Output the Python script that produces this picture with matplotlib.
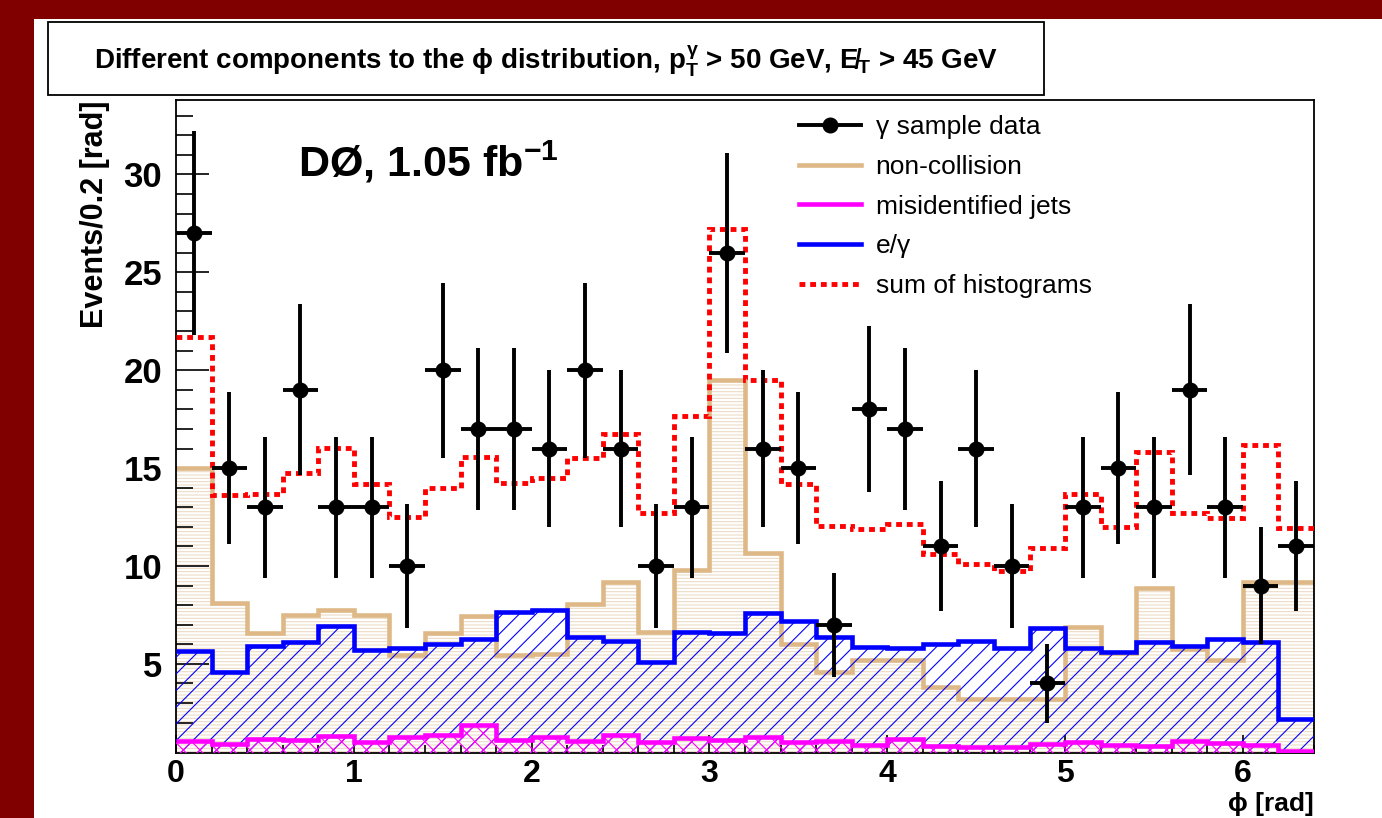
import numpy as np
import matplotlib
matplotlib.use("Agg")
import matplotlib.pyplot as plt
from matplotlib.lines import Line2D
from matplotlib.patches import Rectangle
from matplotlib.ticker import MultipleLocator

plt.rcParams['font.family'] = ['Liberation Sans', 'DejaVu Sans']
plt.rcParams['mathtext.fontset'] = 'custom'
plt.rcParams['mathtext.rm'] = 'Liberation Sans:bold'
plt.rcParams['mathtext.it'] = 'Liberation Sans:bold'
plt.rcParams['mathtext.bf'] = 'Liberation Sans:bold'
plt.rcParams['hatch.linewidth'] = 0.8

# ---------------- data ----------------
bin_edges = np.round(np.arange(0, 6.4001, 0.2), 2)
data_counts = [27, 15, 13, 19, 13, 13, 10, 20, 17, 17, 16, 20, 16, 10, 13, 26,
               16, 15, 7, 18, 17, 11, 16, 10, 4, 13, 15, 13, 19, 13, 9, 11]
non_collision = [15.0, 8.1, 6.6, 7.5, 7.75, 7.5, 5.47, 6.6, 7.46, 5.47, 5.5, 8.05,
                 9.2, 6.65, 9.8, 19.5, 10.65, 6.0, 4.6, 5.2, 5.2, 3.8, 3.2, 3.2,
                 3.2, 6.9, 5.55, 8.9, 5.75, 5.2, 9.2, 9.2]
misid_jets = [1.04, 0.91, 1.17, 1.1, 1.32, 1.0, 1.25, 1.35, 1.86, 1.1, 1.25, 1.08,
              1.35, 1.0, 1.2, 1.13, 1.25, 1.0, 1.05, 0.85, 1.15, 0.8, 0.76, 0.76,
              0.9, 1.0, 0.85, 0.8, 1.04, 0.97, 0.85, 0.53]
e_gamma = [5.68, 4.6, 5.9, 6.14, 6.95, 5.71, 5.8, 6.02, 6.26, 7.66, 7.73, 6.39,
           6.19, 5.08, 6.65, 6.6, 7.58, 7.2, 6.39, 5.85, 5.8, 6.02, 6.15, 5.8,
           6.83, 5.8, 5.59, 6.14, 5.93, 6.27, 6.14, 2.2]
sum_hist = np.array(non_collision) + np.array(misid_jets) + np.array(e_gamma)

xtick_vals = [0, 1, 2, 3, 4, 5, 6]
ytick_vals = [5, 10, 15, 20, 25, 30]

centers = 0.5 * (bin_edges[:-1] + bin_edges[1:])
data_arr = np.array(data_counts, dtype=float)
data_err = np.sqrt(data_arr)

# ---------------- figure ----------------
W, H = 1382, 818
fig = plt.figure(figsize=(W / 100, H / 100), dpi=100, facecolor='white')

# dark red frame bands
fig.patches.append(Rectangle((0, 1 - 19 / H), 1, 19 / H, transform=fig.transFigure,
                             facecolor='#800000', edgecolor='none', zorder=0))
fig.patches.append(Rectangle((0, 0), 34 / W, 1, transform=fig.transFigure,
                             facecolor='#800000', edgecolor='none', zorder=0))

# title box
fig.patches.append(Rectangle((48 / W, 1 - 95 / H), (1044 - 48) / W, (95 - 22) / H,
                             transform=fig.transFigure, facecolor='white',
                             edgecolor='black', linewidth=1.3, zorder=1))
fig.text(546 / W, 1 - 61 / H,
         "Different components to the $\\phi$ distribution, $p_T^{\\gamma}$ > 50 GeV, E\u0338$_T$ > 45 GeV",
         ha='center', va='center', fontsize=20, fontweight='bold', zorder=2)

ax = fig.add_axes([176 / W, 1 - 753 / H, (1314 - 176) / W, (753 - 100) / H])

tan = '#deb887'
tan_hatch = '#ecdcc6'
blue = '#0000ff'
mag = '#ff00ff'

# non-collision
ax.stairs(non_collision, bin_edges, baseline=0, fill=True, facecolor='none',
          edgecolor=tan_hatch, hatch='-----', linewidth=0, zorder=1)
ax.stairs(non_collision, bin_edges, baseline=None, color=tan, linewidth=3.3, zorder=2)
# e/gamma
ax.stairs(e_gamma, bin_edges, baseline=0, fill=True, facecolor='none',
          edgecolor=blue, hatch='//', linewidth=0, zorder=3)
ax.stairs(e_gamma, bin_edges, baseline=None, color=blue, linewidth=3.3, zorder=4)
# misidentified jets
ax.stairs(misid_jets, bin_edges, baseline=0, fill=True, facecolor='none',
          edgecolor=mag, hatch='xx', linewidth=0, zorder=5)
ax.stairs(misid_jets, bin_edges, baseline=None, color=mag, linewidth=3.3, zorder=6)
# sum
ax.stairs(sum_hist, bin_edges, baseline=None, color='#ff0000', linewidth=3.5,
          linestyle=(0, (1.2, 1.0)), zorder=7)
# data
ax.errorbar(centers, data_arr, yerr=data_err, xerr=0.1, fmt='o', color='black',
            ms=10.5, elinewidth=2.8, capsize=0, zorder=10)

ax.set_xlim(0, 6.4)
ax.set_ylim(0.45, 33.8)

ax.set_xticks(xtick_vals)
ax.set_yticks(ytick_vals)
ax.xaxis.set_minor_locator(MultipleLocator(0.2))
ax.yaxis.set_minor_locator(MultipleLocator(1))
ax.tick_params(axis='both', which='both', direction='in', top=False, right=False)
ax.tick_params(axis='y', which='major', length=24, width=1.2, pad=10, labelsize=25)
ax.tick_params(axis='y', which='minor', length=12, width=1.2)
ax.tick_params(axis='x', which='major', length=13, width=1.2, pad=4, labelsize=23)
ax.tick_params(axis='x', which='minor', length=6, width=1.2)
for lab in ax.get_xticklabels() + ax.get_yticklabels():
    lab.set_fontweight('bold')
for sp in ax.spines.values():
    sp.set_linewidth(1.3)

ax.set_ylabel("Events/0.2 [rad]", fontsize=22, fontweight='bold', loc='top', labelpad=10)
ax.set_xlabel("\u03d5 [rad]", fontsize=19, fontweight='bold', loc='right')
ax.xaxis.set_label_coords(1.0, (753 - 816) / 653)
ax.xaxis.label.set_verticalalignment('bottom')

ax.text(0.107, 0.905, "D\u00d8, 1.05 fb$^{\\mathbf{-1}}$", transform=ax.transAxes,
        fontsize=31, fontweight='bold', ha='left', va='center', zorder=12)

handles = [
    Line2D([], [], color='black', marker='o', ms=10.5, lw=2.8),
    Line2D([], [], color=tan, lw=3.3),
    Line2D([], [], color=mag, lw=3.3),
    Line2D([], [], color=blue, lw=3.3),
    Line2D([], [], color='#ff0000', lw=3.5, linestyle=(0, (1.2, 1.0))),
]
labels = ["\u03b3 sample data", "non-collision", "misidentified jets", "e/\u03b3",
          "sum of histograms"]
leg = ax.legend(handles, labels, loc='upper left', bbox_to_anchor=(799 / W, 1 - 115 / H),
                bbox_transform=fig.transFigure, frameon=False, fontsize=19,
                handlelength=2.35, handletextpad=0.55, labelspacing=0.6,
                borderpad=0, borderaxespad=0)
leg.set_zorder(20)

fig.savefig("out.png", dpi=100, facecolor=fig.get_facecolor())
